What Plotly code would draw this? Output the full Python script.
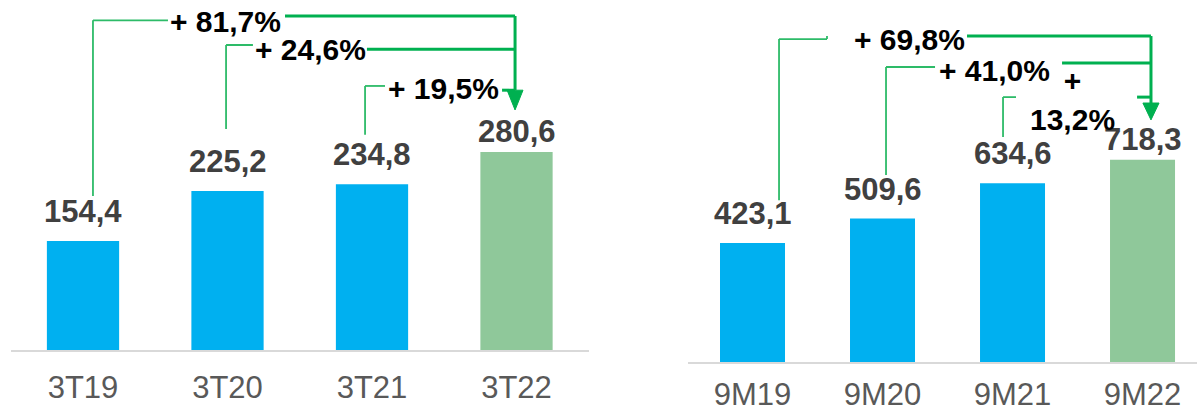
import plotly.graph_objects as go

# ---------------- data ----------------
cats_q = ["3T19", "3T20", "3T21", "3T22"]
vals_q = [154.4, 225.2, 234.8, 280.6]
labels_q = ["154,4", "225,2", "234,8", "280,6"]

cats_9m = ["9M19", "9M20", "9M21", "9M22"]
vals_9m = [423.1, 509.6, 634.6, 718.3]
labels_9m = ["423,1", "509,6", "634,6", "718,3"]

growth_q = ["+ 81,7%", "+ 24,6%", "+ 19,5%"]
growth_9m = ["+ 69,8%", "+ 41,0%", "+<br>13,2%"]

# ---------------- style ----------------
BLUE = "#00B0F0"
GREEN_BAR = "#8FC89A"
LINE_THIN = "#2DBB68"
LINE_THICK = "#00B050"
VAL_COLOR = "#404040"
TICK_COLOR = "#595959"
FONT = "Liberation Sans, Arial, sans-serif"

W, H = 1197, 408
colors = [BLUE, BLUE, BLUE, GREEN_BAR]

fig = go.Figure()
fig.add_trace(go.Bar(x=list(range(4)), y=vals_q, marker=dict(color=colors, line_width=0),
                     width=0.5, xaxis="x", yaxis="y", hoverinfo="skip"))
fig.add_trace(go.Bar(x=list(range(4)), y=vals_9m, marker=dict(color=colors, line_width=0),
                     width=0.5, xaxis="x2", yaxis="y2", hoverinfo="skip"))

annotations = []
label_shift = [10, 10, 10, 1]
for i, (v, t) in enumerate(zip(vals_q, labels_q)):
    annotations.append(dict(x=i, y=v, xref="x", yref="y", text=t, showarrow=False,
                            yanchor="bottom", yshift=label_shift[i],
                            font=dict(family=FONT, size=31, color=VAL_COLOR, weight="bold")))
for i, (v, t) in enumerate(zip(vals_9m, labels_9m)):
    annotations.append(dict(x=i, y=v, xref="x2", yref="y2", text=t, showarrow=False,
                            yanchor="bottom", yshift=label_shift[i],
                            font=dict(family=FONT, size=31, color=VAL_COLOR, weight="bold")))

shapes = []


def seg(xr, yr, x0, y0, x1, y1, color, width):
    shapes.append(dict(type="line", xref=xr, yref=yr, x0=x0, y0=y0, x1=x1, y1=y1,
                       line=dict(color=color, width=width), layer="above"))


def tri(xr, yr, xl, xrr, ybase, xtip, ytip):
    shapes.append(dict(type="path", xref=xr, yref=yr,
                       path=f"M {xl},{ybase} L {xrr},{ybase} L {xtip},{ytip} Z",
                       fillcolor=LINE_THICK, line=dict(color=LINE_THICK, width=1), layer="above"))


# brackets: (vline x, vline bottom, level, text start x, text centre x, text y,
#            right line start x, right line y)
brackets_q = [
    (0.069, 218, 467, 0.588, 0.986, 466, 1.398, 473),
    (0.990, 313, 432, 1.176, 1.571, 425, 1.965, 426),
    (1.952, 305, 374, 2.090, 2.495, 371, 2.900, 368),
]
arrow_q = dict(x=2.990, top=473, base=368, tip=340, half=0.055)

brackets_9m = [
    (0.204, 575, 1147, 0.573, 1.208, 1144, 1.650, 1158),
    (1.027, 664, 1048, 1.404, 1.865, 1037, 2.381, 1062),
    (1.927, 799, 941, 2.027, 2.458, 932, 2.958, 941),
]
arrow_9m = dict(x=3.065, top=1158, base=920, tip=860, half=0.062)

for xr, yr, brs, arr, texts in (("x", "y", brackets_q, arrow_q, growth_q),
                                ("x2", "y2", brackets_9m, arrow_9m, growth_9m)):
    for (vx, vb, lvl, tx0, tcx, ty, rx0, ry), txt in zip(brs, texts):
        seg(xr, yr, vx, vb, vx, lvl, LINE_THIN, 1.8)
        seg(xr, yr, vx, lvl, tx0, lvl, LINE_THIN, 1.8)
        seg(xr, yr, rx0, ry, arr["x"], ry, LINE_THICK, 3)
        annotations.append(dict(x=tcx, y=ty, xref=xr, yref=yr, text=txt, showarrow=False,
                                xanchor="center", yanchor="middle", align="center",
                                font=dict(family=FONT, size=30, color="#000000", weight="bold")))
    seg(xr, yr, arr["x"], arr["top"], arr["x"], arr["base"], LINE_THICK, 3)
    tri(xr, yr, arr["x"] - arr["half"], arr["x"] + arr["half"], arr["base"], arr["x"], arr["tip"])

# small tick at end of 69,8% left line
seg("x2", "y2", 0.573, 1147, 0.573, 1158, LINE_THIN, 1.8)

axis_common = dict(showgrid=False, zeroline=False, showline=True, linecolor="#D9D9D9",
                   linewidth=2, ticks="outside", tickcolor="rgba(0,0,0,0)",
                   tickmode="array", tickvals=list(range(4)), automargin=False,
                   tickfont=dict(family=FONT, size=31, color=TICK_COLOR))

fig.update_layout(
    width=W, height=H, margin=dict(l=0, r=0, t=0, b=0, autoexpand=False),
    paper_bgcolor="white", plot_bgcolor="white", showlegend=False,
    xaxis=dict(domain=[10.75 / W, 588.75 / W], range=[-0.5, 3.5], anchor="y",
               ticktext=cats_q, ticklen=9, **axis_common),
    xaxis2=dict(domain=[687.5 / W, 1.0], range=[-0.5, 3.419], anchor="y2",
                ticktext=cats_9m, ticklen=4, **axis_common),
    yaxis=dict(domain=[(H - 350) / H, 1.0], range=[0, 350 / 0.706], visible=False,
               automargin=False),
    yaxis2=dict(domain=[(H - 362) / H, 1.0], range=[0, 362 / 0.2815], visible=False,
                automargin=False),
    shapes=shapes, annotations=annotations,
)

fig.write_html("out.html", config={"displayModeBar": False},
               post_script="document.body.style.margin='0';document.body.style.overflow='hidden';")
